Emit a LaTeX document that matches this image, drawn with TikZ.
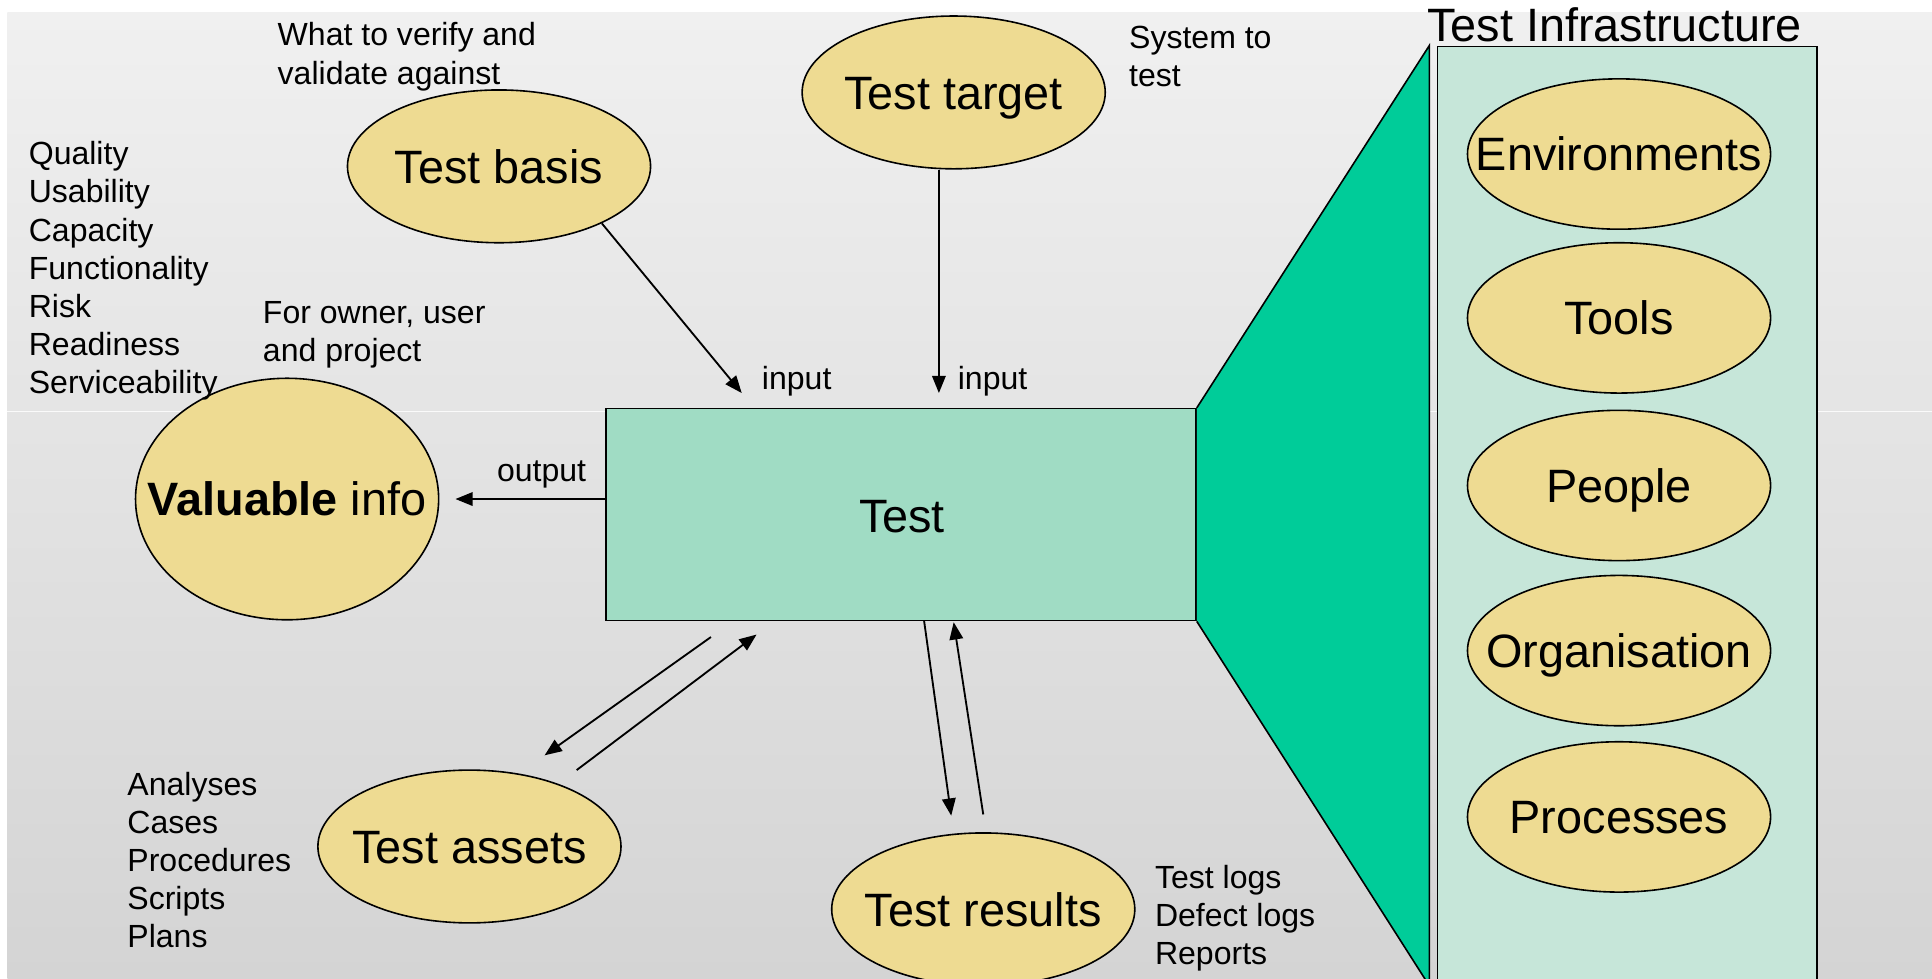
\documentclass[tikz,border=0pt]{standalone}
\usepackage{fontspec}
\setmainfont{Liberation Sans}
\usetikzlibrary{arrows.meta,calc,shapes.geometric}
\definecolor{bgtop}{HTML}{F0F0F0}
\definecolor{bgbot}{HTML}{D4D4D4}
\definecolor{ellfill}{HTML}{EEDB92}
\definecolor{boxfill}{HTML}{A0DCC4}
\definecolor{panelfill}{HTML}{C6E6D9}
\definecolor{trapgreen}{HTML}{00CC99}
\begin{document}
\begin{tikzpicture}[x=0.5pt,y=-0.5pt,
  smalltxt/.style={font=\fontsize{13}{15.5}\selectfont, inner sep=0pt, align=left},
  bigtxt/.style={font=\fontsize{19}{22}\selectfont},
  bubble/.style={ellipse, draw=black, line width=0.65pt, fill=ellfill, inner sep=0pt,
    text height=15pt, text depth=1.4pt,
    minimum width=123pt, minimum height=62pt, font=\fontsize{19}{22}\selectfont},
  arr/.style={line width=0.75pt, -{Triangle[length=7pt,width=5.5pt]}},
  edgeline/.style={line width=0.65pt, draw=black}]
\useasboundingbox (0,0) rectangle (1568,794);
\fill[white] (0,0) rectangle (1568,794);
\shade[top color=bgtop, bottom color=bgbot] (6,10) rectangle (1568,794);
\draw[white!70!bgtop, line width=0.5pt] (6,334) -- (1568,334);

% green trapezoid and test box
\node[draw=black, line width=0.65pt, fill=boxfill, minimum width=239.5pt, minimum height=86pt,
  anchor=north west, inner sep=0pt] (test) at (491,331) {};
\node[bigtxt, inner sep=0pt] (testlbl) at (732,419) {Test};
\coordinate (trapTop) at (1160,37);
\coordinate (trapBot) at (1160,800);
\fill[trapgreen] (test.north east) -- (trapTop) -- (trapBot) -- (test.south east) -- cycle;
\draw[edgeline] (test.north east) -- (trapTop) -- (trapBot);
\draw[edgeline] (test.south east) -- (trapBot);

% infrastructure panel
\node[draw=black, line width=0.65pt, fill=panelfill, minimum width=154pt, minimum height=385pt,
  anchor=north west, inner sep=0pt] (infra) at (1166,37) {};
\node[bigtxt, anchor=base west, inner sep=0pt] (infratitle) at (1158,34) {Test Infrastructure};
\node[bubble, minimum height=61pt] (env) at (1314,125) {\makebox[0pt]{Environments}};
\node[bubble, minimum height=61pt] (tools) at (1314,258) {\makebox[0pt]{Tools}};
\node[bubble, minimum height=61pt] (people) at (1314,394) {\makebox[0pt]{People}};
\node[bubble, minimum height=61pt] (org) at (1314,528) {\makebox[0pt]{Organisation}};
\node[bubble, minimum height=61pt] (proc) at (1314,663) {\makebox[0pt]{Processes}};

% main bubbles
\node[bubble] (tbasis) at (405,135) {\makebox[0pt]{Test basis}};
\node[bubble] (ttarget) at (774,75) {\makebox[0pt]{Test target}};
\node[bubble, minimum height=98pt] (vinfo) at (233,405) {\makebox[0pt]{\textbf{Valuable} info}};
\node[bubble] (tassets) at (381,687) {\makebox[0pt]{Test assets}};
\node[bubble] (tresults) at (798,738) {\makebox[0pt]{Test results}};

% annotations
\node[smalltxt, anchor=west] (whatto) at (225,46) {What to verify and\\validate against};
\node[smalltxt, anchor=west] (systo) at (916,46) {System to\\test};
\node[smalltxt, anchor=west] (qual) at (23,220) {Quality\\Usability\\Capacity\\Functionality\\Risk\\Readiness\\Serviceability};
\node[smalltxt, anchor=west] (forowner) at (213,272) {For owner, user\\and project};
\node[smalltxt, anchor=west] (in1) at (618,309) {input};
\node[smalltxt, anchor=west] (in2) at (777,309) {input};
\node[smalltxt, anchor=west] (outlbl) at (403,385) {output};
\node[smalltxt, anchor=west] (assetlist) at (103,698) {Analyses\\Cases\\Procedures\\Scripts\\Plans};
\node[smalltxt, anchor=west] (reslist) at (937,745) {Test logs\\Defect logs\\Reports};

% connectors
\coordinate (inA) at (602,319);
\coordinate (inB) at (762,319);
\draw[arr] (tbasis.-29) -- (inA);
\draw[arr] (ttarget.south -| inB) -- (inB);
\draw[arr] (test.west |- vinfo) -- ($(vinfo.east)+(13,0)$);
\coordinate (asOutS) at (577,517);
\coordinate (asOutE) at (442,613);
\coordinate (asInS) at (468,625);
\coordinate (asInE) at (614,515);
\draw[arr] (asOutS) -- (asOutE);
\draw[arr] (asInS) -- (asInE);
\coordinate (rsOutS) at (750,504);
\coordinate (rsOutE) at (772,662);
\coordinate (rsInS) at (798,661);
\coordinate (rsInE) at (774,505);
\draw[arr] (rsOutS) -- (rsOutE);
\draw[arr] (rsInS) -- (rsInE);
\end{tikzpicture}
\end{document}
